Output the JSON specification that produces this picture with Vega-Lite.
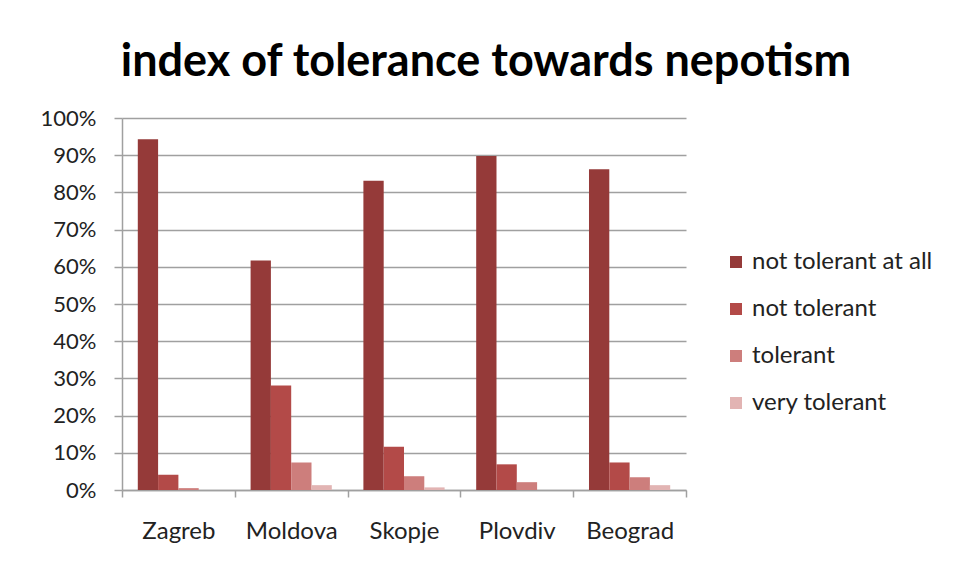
{
  "$schema": "https://vega.github.io/schema/vega-lite/v6.json",
  "width": 564,
  "height": 372,
  "autosize": "none",
  "padding": {"left": 122, "top": 118, "right": 268, "bottom": 80},
  "background": "white",
  "title": {
    "text": "index of tolerance towards nepotism",
    "font": "Lato",
    "fontSize": 45,
    "fontWeight": "bold",
    "color": "#000000",
    "anchor": "middle",
    "frame": "group",
    "dx": 82,
    "offset": 22
  },
  "data": {
    "values": [
      {"city": "Zagreb", "level": "not tolerant at all", "share": 0.943},
      {"city": "Zagreb", "level": "not tolerant", "share": 0.041},
      {"city": "Zagreb", "level": "tolerant", "share": 0.005},
      {"city": "Zagreb", "level": "very tolerant", "share": 0.0},
      {"city": "Moldova", "level": "not tolerant at all", "share": 0.617},
      {"city": "Moldova", "level": "not tolerant", "share": 0.281},
      {"city": "Moldova", "level": "tolerant", "share": 0.074},
      {"city": "Moldova", "level": "very tolerant", "share": 0.013},
      {"city": "Skopje", "level": "not tolerant at all", "share": 0.831},
      {"city": "Skopje", "level": "not tolerant", "share": 0.116},
      {"city": "Skopje", "level": "tolerant", "share": 0.037},
      {"city": "Skopje", "level": "very tolerant", "share": 0.007},
      {"city": "Plovdiv", "level": "not tolerant at all", "share": 0.898},
      {"city": "Plovdiv", "level": "not tolerant", "share": 0.069},
      {"city": "Plovdiv", "level": "tolerant", "share": 0.021},
      {"city": "Plovdiv", "level": "very tolerant", "share": 0.0},
      {"city": "Beograd", "level": "not tolerant at all", "share": 0.862},
      {"city": "Beograd", "level": "not tolerant", "share": 0.074},
      {"city": "Beograd", "level": "tolerant", "share": 0.034},
      {"city": "Beograd", "level": "very tolerant", "share": 0.013}
    ]
  },
  "mark": {"type": "bar"},
  "encoding": {
    "x": {
      "field": "city",
      "type": "nominal",
      "sort": ["Zagreb", "Moldova", "Skopje", "Plovdiv", "Beograd"],
      "scale": {"paddingInner": 0, "paddingOuter": 0},
      "axis": {
        "title": null,
        "labelAngle": 0,
        "tickBand": "extent",
        "grid": false,
        "domainColor": "#a0a0a0",
        "domainWidth": 1.5,
        "tickColor": "#a0a0a0",
        "tickWidth": 1.5,
        "tickSize": 7,
        "labelPadding": 22,
        "labelFont": "Lato",
        "labelFontSize": 24,
        "labelColor": "#222222"
      }
    },
    "xOffset": {
      "field": "level",
      "type": "nominal",
      "sort": ["not tolerant at all", "not tolerant", "tolerant", "very tolerant"],
      "scale": {"paddingInner": 0, "paddingOuter": 0.778}
    },
    "y": {
      "field": "share",
      "type": "quantitative",
      "scale": {"domain": [0, 1], "nice": false},
      "axis": {
        "title": null,
        "format": ".0%",
        "values": [0, 0.1, 0.2, 0.3, 0.4, 0.5, 0.6, 0.7, 0.8, 0.9, 1],
        "grid": true,
        "gridColor": "#a0a0a0",
        "gridWidth": 1.5,
        "domainColor": "#a0a0a0",
        "domainWidth": 1.5,
        "tickColor": "#a0a0a0",
        "tickWidth": 1.5,
        "tickSize": 8,
        "labelPadding": 18,
        "labelFont": "Lato",
        "labelFontSize": 22,
        "labelColor": "#222222"
      }
    },
    "color": {
      "field": "level",
      "type": "nominal",
      "sort": ["not tolerant at all", "not tolerant", "tolerant", "very tolerant"],
      "scale": {
        "domain": ["not tolerant at all", "not tolerant", "tolerant", "very tolerant"],
        "range": ["#953a39", "#b34a48", "#cd7e7c", "#e2b4b3"]
      },
      "legend": {
        "title": null,
        "orient": "none",
        "legendX": 602,
        "legendY": 132,
        "symbolType": "square",
        "symbolSize": 144,
        "symbolStrokeWidth": 0,
        "labelFont": "Lato",
        "labelFontSize": 24,
        "labelColor": "#222222",
        "labelOffset": 4,
        "labelLimit": 320,
        "rowPadding": 23
      }
    }
  },
  "config": {
    "view": {"stroke": null}
  }
}
